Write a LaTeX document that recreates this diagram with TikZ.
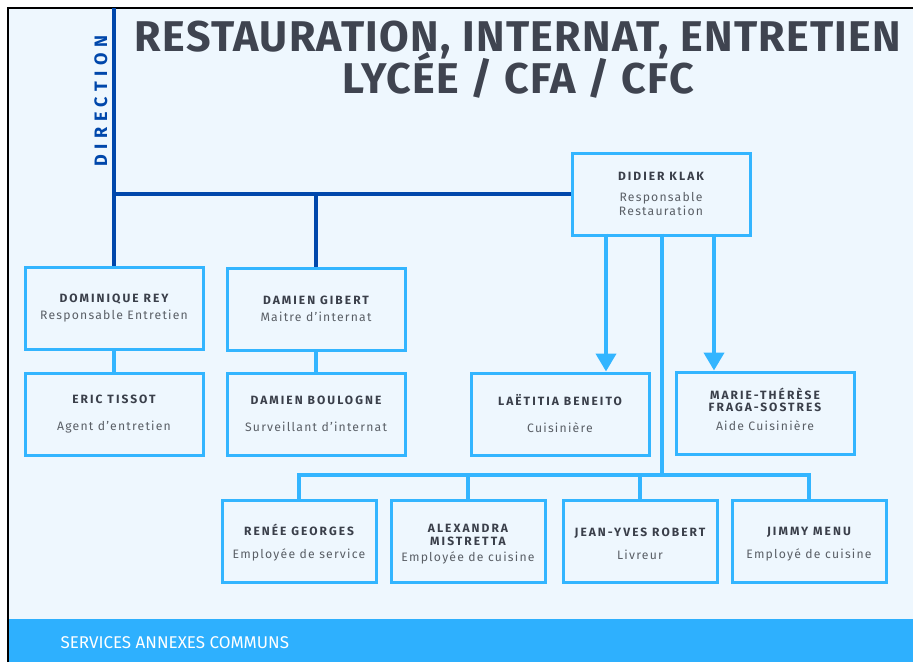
\documentclass[tikz,border=0pt]{standalone}
\usepackage{fontspec}
\setmainfont{Fira Sans}
\usetikzlibrary{arrows.meta}
\definecolor{fond}{HTML}{EEF7FE}
\definecolor{cadre}{HTML}{33B5FF}
\definecolor{dirbleu}{HTML}{0047AB}
\definecolor{titregris}{HTML}{3F4450}
\definecolor{nomgris}{HTML}{3A3F4A}
\definecolor{rolegris}{HTML}{5A5F66}
\definecolor{bleubarre}{HTML}{2EB0FE}
\newcommand{\nomfont}{\bfseries\fontsize{12}{12}\selectfont\addfontfeatures{LetterSpace=17}\color{nomgris}}
\newcommand{\rolefont}{\fontsize{12.2}{14}\selectfont\addfontfeatures{LetterSpace=10}\color{rolegris}}

\begin{document}
\begin{tikzpicture}[x=1pt,y=-1pt,
  boite/.style={draw=cadre, line width=3pt, fill=fond, minimum width=178pt, minimum height=82pt, align=center, inner sep=0pt},
  petite/.style={boite, minimum width=154pt},
  direction/.style={draw=dirbleu, line width=4pt},
  lien/.style={draw=cadre, line width=4pt},
  fleche/.style={lien, -{Triangle[width=20pt,length=18pt]}}]
\useasboundingbox (0,0) rectangle (913,662);
\fill[fond] (8,8) rectangle (913,662);
\fill[bleubarre] (8,619) rectangle (913,662);
\draw[line width=2pt] (8,662) -- (8,8) -- (913,8);
% titre
\node[anchor=base, text=titregris, font=\bfseries\fontsize{43}{40}\selectfont\addfontfeatures{LetterSpace=3}] (titre) at (518,51) {RESTAURATION, INTERNAT, ENTRETIEN};
\node[anchor=base, text=titregris, font=\bfseries\fontsize{43}{40}\selectfont\addfontfeatures{LetterSpace=3}] (soustitre) at (518,93) {LYCÉE / CFA / CFC};
\node[rotate=90, text=dirbleu, font=\bfseries\fontsize{18}{18}\selectfont\addfontfeatures{LetterSpace=31}] (direction) at (101,101) {DIRECTION};
\node[anchor=base west, text=white, font=\fontsize{17}{17}\selectfont] (services) at (57,648) {SERVICES ANNEXES COMMUNS};

% boites
\node[boite] (rey) at (114,308) {{\nomfont DOMINIQUE REY}\\[5pt]{\rolefont Responsable Entretien}};
\node[boite] (tissot) at (114,414) {{\nomfont ERIC TISSOT}\\[15pt]{\rolefont Agent d'entretien}};
\node[boite] (gibert) at (316,309) {{\nomfont DAMIEN GIBERT}\\[5pt]{\rolefont Maitre d'internat}};
\node[boite] (boulogne) at (316,414) {{\nomfont DAMIEN BOULOGNE}\\[15pt]{\rolefont Surveillant d'internat}};
\node[boite] (klak) at (661,194) {{\nomfont DIDIER KLAK}\\[9pt]{\rolefont Responsable}\\[1pt]{\rolefont Restauration}};
\node[boite] (beneito) at (560,414) {{\nomfont LAËTITIA BENEITO}\\[15pt]{\rolefont Cuisinière}};
\node[boite] (fraga) at (765,413) {{\nomfont MARIE-THÉRÈSE}\\{\nomfont FRAGA-SOSTRES}\\[7pt]{\rolefont Aide Cuisinière}\\[-5pt]\mbox{}};
\node[petite] (georges) at (299,541) {\rule{0pt}{15pt}{\nomfont RENÉE GEORGES}\\[11pt]{\rolefont Employée de service}};
\node[petite] (mistretta) at (468,541) {\rule{0pt}{15pt}{\nomfont ALEXANDRA}\\[1pt]{\nomfont MISTRETTA}\\[4pt]{\rolefont Employée de cuisine}};
\node[petite] (robert) at (640,541) {\rule{0pt}{15pt}{\nomfont JEAN-YVES ROBERT}\\[11pt]{\rolefont Livreur}};
\node[petite] (menu) at (809,541) {\rule{0pt}{15pt}{\nomfont JIMMY MENU}\\[11pt]{\rolefont Employé de cuisine}};

% direction
\coordinate (haut) at (114,8);
\draw[direction] (haut) -- (rey.north);
\draw[direction] (haut |- klak.west) -- (klak.west);
\draw[direction] (gibert.north) -- (gibert.north |- klak.west);

% liens
\draw[lien] (rey) -- (tissot);
\draw[lien] (gibert) -- (boulogne);
\draw[fleche] ([xshift=-55pt,yshift=3pt]klak.south) -- ([xshift=-55pt]klak.south |- beneito.north);
\draw[fleche] ([xshift=53pt,yshift=3pt]klak.south) -- ([xshift=53pt]klak.south |- fraga.north);
\coordinate (barre) at (662,475);
\draw[lien] ([yshift=3pt]klak.south -| barre) -- (barre);
\draw[lien, line join=miter] (georges.north) -- (georges.north |- barre) -- (menu.north |- barre) -- (menu.north);
\draw[lien] (mistretta.north) -- (mistretta.north |- barre);
\draw[lien] (robert.north) -- (robert.north |- barre);
\end{tikzpicture}
\end{document}
